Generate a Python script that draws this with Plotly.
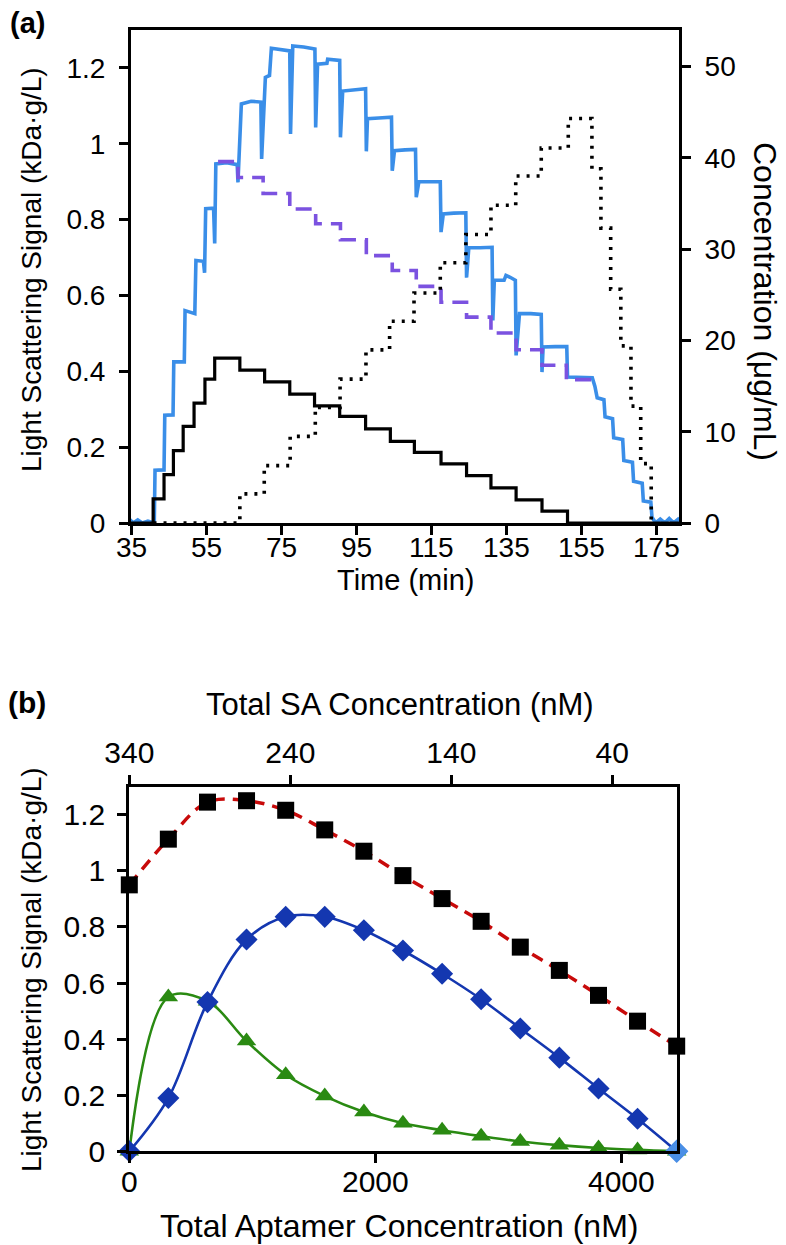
import plotly.graph_objects as go

# The page body has an 8px margin, so the figure is shifted by OFF px.
OFF = 8
W, H = 786 - OFF, 1245 - OFF
FONT = "Liberation Sans, Arial, Helvetica, sans-serif"

# ---------------- Panel (a) data ----------------
blue_t = [32.0, 33.2, 34.4, 35.6, 36.8, 38.0, 39.5, 41.2,
          41.4, 43.8, 44.0, 46.2, 46.4, 49.2, 49.4, 52.0,
          52.3, 54.3, 54.6, 54.9, 57.0, 57.3,
          57.6, 60.5, 63.3, 63.5, 64.4, 67.0, 69.6, 69.8,
          70.8, 71.9, 72.4, 75.0, 77.3, 77.5,
          78.1, 81.0, 84.0, 84.2, 84.7, 87.2, 87.4, 90.6, 90.8,
          91.4, 94.5, 97.5, 97.7, 98.0, 101.0, 104.4, 104.6,
          105.2, 108.0, 110.8, 111.0, 111.7, 114.5, 117.4, 117.6,
          118.2, 121.0, 124.2, 124.4, 125.0, 128.0, 131.2, 131.4,
          131.8, 134.4, 134.9, 136.0, 137.4, 137.6,
          138.5, 141.5, 144.3, 144.5, 144.8, 148.0, 151.1,
          151.3, 155.0, 157.9, 158.6, 159.2, 161.0, 161.3, 163.3,
          163.6, 166.0, 166.3, 168.6, 168.9, 171.2, 171.5, 173.5,
          173.8, 174.8, 176.0, 177.2, 178.4, 179.6, 180.8, 182.0]
blue_v = [0.01, 0.0, 0.012, 0.0, 0.008, 0.0, 0.005, 0.0,
          0.139, 0.14, 0.284, 0.285, 0.425, 0.425, 0.56, 0.552,
          0.692, 0.69, 0.66, 0.829, 0.83, 0.737,
          0.947, 0.95, 0.945, 0.898, 1.105, 1.112, 1.11, 0.96,
          1.175, 1.18, 1.252, 1.248, 1.245, 1.026,
          1.258, 1.255, 1.25, 1.043, 1.21, 1.212, 1.223, 1.22, 1.017,
          1.139, 1.143, 1.145, 0.98, 1.066, 1.068, 1.07, 0.929,
          0.982, 0.984, 0.985, 0.859, 0.9, 0.9, 0.9, 0.767,
          0.815, 0.817, 0.818, 0.647, 0.726, 0.726, 0.727, 0.534,
          0.64, 0.64, 0.653, 0.648, 0.64, 0.442,
          0.552, 0.552, 0.55, 0.398, 0.464, 0.465, 0.465,
          0.385, 0.384, 0.383, 0.36, 0.33, 0.325, 0.28, 0.275,
          0.225, 0.22, 0.165, 0.16, 0.11, 0.105, 0.058, 0.055,
          0.015, 0.0, 0.01, 0.0, 0.012, 0.0, 0.01, 0.0]

purple_t = [58.2, 63.5, 70.2, 77.3, 84.2, 90.8, 97.7, 104.6, 111.0,
            117.6, 124.4, 130.9, 137.6, 144.5, 151.0, 157.9]
purple_v = [0.953, 0.911, 0.869, 0.828, 0.789, 0.747, 0.705, 0.666, 0.624,
            0.582, 0.543, 0.501, 0.457, 0.416, 0.378, 0.378]

black_t = [35, 40.9, 43.8, 46.3, 48.9, 51.8, 54.7, 57.3, 64.0, 70.6, 77.3,
           83.9, 90.6, 97.5, 104.1, 110.5, 117.6, 124.4, 130.9, 137.6,
           144.5, 151.3, 181]
black_c = [0, 2.64, 5.3, 7.92, 10.58, 13.14, 15.76, 18.05, 16.74, 15.46,
           14.12, 12.84, 11.67, 10.3, 8.94, 7.74, 6.47, 5.19, 3.85, 2.54,
           1.29, 0, 0]

dot_t = [41.0, 64.0, 70.5, 77.4, 84.1, 90.7, 97.6, 103.9, 110.4, 117.4,
         124.2, 130.9, 137.5, 144.3, 151.5, 157.8, 160.2, 162.8, 165.5,
         168.2, 170.8, 173.6, 174.5]
dot_c = [0, 3.19, 6.28, 9.49, 12.66, 15.76, 18.96, 22.1, 25.2, 28.5,
         31.6, 34.8, 38.0, 41.07, 44.3, 38.8, 32.3, 25.6, 19.4,
         12.8, 6.5, 0, 0]

a_xticks = [35, 55, 75, 95, 115, 135, 155, 175]
a_yticks = [0, 0.2, 0.4, 0.6, 0.8, 1.0, 1.2]
a_yticktext = ["0", "0.2", "0.4", "0.6", "0.8", "1", "1.2"]
a_y2ticks = [0, 10, 20, 30, 40, 50]

# ---------------- Panel (b) data ----------------
aptamer = [0, 317, 635, 952, 1270, 1587, 1905, 2222, 2540, 2857, 3175,
           3492, 3810, 4127, 4445]
squares = [0.95, 1.113, 1.245, 1.25, 1.216, 1.146, 1.07, 0.983, 0.901,
           0.82, 0.728, 0.645, 0.556, 0.464, 0.375]
diamonds = [0, 0.19, 0.532, 0.755, 0.836, 0.836, 0.788, 0.716, 0.633,
            0.542, 0.438, 0.334, 0.224, 0.116, 0.0]
triangles = [0, 0.55, 0.535, 0.393, 0.273, 0.197, 0.14, 0.1, 0.075,
             0.054, 0.035, 0.022, 0.012, 0.005, 0.0]
end_x = [4445]
end_y = [0.0]

b_xticks = [0, 2000, 4000]
b_topticks = [340, 240, 140, 40]
b_yticks = [0, 0.2, 0.4, 0.6, 0.8, 1.0, 1.2]
b_yticktext = ["0", "0.2", "0.4", "0.6", "0.8", "1", "1.2"]


def px(x):
    # reference-pixel x -> paper fraction
    return (x - OFF) / W


def py(y):
    return 1 - (y - OFF) / H


fig = go.Figure()

# (a) traces
fig.add_trace(go.Scatter(x=black_t, y=black_c, mode="lines", xaxis="x", yaxis="y2",
                         line=dict(color="black", width=3.2, shape="hv"),
                         showlegend=False, hoverinfo="skip"))
fig.add_trace(go.Scatter(x=dot_t, y=dot_c, mode="lines", xaxis="x", yaxis="y2",
                         line=dict(color="black", width=3.6, shape="hv", dash="3px,7px"),
                         showlegend=False, hoverinfo="skip"))
fig.add_trace(go.Scatter(x=blue_t, y=blue_v, mode="lines", xaxis="x", yaxis="y",
                         line=dict(color="#3a8ee8", width=3.6),
                         showlegend=False, hoverinfo="skip"))
fig.add_trace(go.Scatter(x=purple_t, y=purple_v, mode="lines", xaxis="x", yaxis="y",
                         line=dict(color="#7b52e0", width=3.6, shape="hv", dash="16px,9px"),
                         showlegend=False, hoverinfo="skip"))

# (b) traces
fig.add_trace(go.Scatter(x=aptamer, y=squares, mode="lines+markers", xaxis="x2", yaxis="y3",
                         line=dict(color="#c80a0a", width=3.5, shape="spline", smoothing=1.0,
                                   dash="12px,8px"),
                         marker=dict(symbol="square", size=17, color="black"),
                         cliponaxis=False, showlegend=False, hoverinfo="skip"))
fig.add_trace(go.Scatter(x=aptamer, y=triangles, mode="lines+markers", xaxis="x2", yaxis="y3",
                         line=dict(color="#2a8a12", width=2.6, shape="spline", smoothing=1.0),
                         marker=dict(symbol="triangle-up", size=17, color="#2a8a12"),
                         cliponaxis=False, showlegend=False, hoverinfo="skip"))
fig.add_trace(go.Scatter(x=aptamer, y=diamonds, mode="lines+markers", xaxis="x2", yaxis="y3",
                         line=dict(color="#1437b0", width=2.6, shape="spline", smoothing=1.0),
                         marker=dict(symbol="diamond", size=17, color="#1437b0"),
                         cliponaxis=False, showlegend=False, hoverinfo="skip"))
fig.add_trace(go.Scatter(x=end_x, y=end_y, mode="markers", xaxis="x2", yaxis="y3",
                         marker=dict(symbol="diamond", size=18, color="#4a8fe6"),
                         cliponaxis=False, showlegend=False, hoverinfo="skip"))
# anchor trace for the top (SA) axis
fig.add_trace(go.Scatter(x=[340, 0], y=[None, None], mode="lines", xaxis="x3", yaxis="y3",
                         showlegend=False, hoverinfo="skip"))


def axis_style(fsize):
    return dict(showgrid=False, zeroline=False, showline=True, linecolor="black",
                linewidth=3, ticks="outside", ticklen=9, tickwidth=3,
                tickcolor="black", automargin=False,
                tickfont=dict(size=fsize, color="black", family=FONT))


fig.update_layout(
    width=W, height=H,
    margin=dict(l=0, r=0, t=0, b=0),
    paper_bgcolor="white", plot_bgcolor="white",
    font=dict(family=FONT, color="black"),
    xaxis=dict(domain=[px(131), px(679)], anchor="y", range=[35, 181],
               tickvals=a_xticks, showticklabels=False, mirror=True, **axis_style(28)),
    yaxis=dict(domain=[py(523), py(30)], anchor="x", range=[0, 1.3],
               tickvals=a_yticks, ticktext=a_yticktext, ticklabelstandoff=8, **axis_style(28)),
    yaxis2=dict(overlaying="y", side="right", anchor="x", range=[0, 54],
                tickvals=a_y2ticks, ticklabelstandoff=8, **axis_style(28)),
    xaxis2=dict(domain=[px(129.3), px(676.7)], anchor="y3", range=[0, 4445],
                tickvals=b_xticks, showticklabels=False, **axis_style(30)),
    yaxis3=dict(domain=[py(1151.3), py(786.7)], anchor="x2", range=[0, 1.3],
                tickvals=b_yticks, ticktext=b_yticktext, mirror=True, ticklabelstandoff=6,
                **axis_style(30)),
    xaxis3=dict(overlaying="x2", side="top", anchor="y3", range=[340, 0],
                tickvals=b_topticks, **axis_style(30)),
)

ann = []


def text(x, y, s, size=30, angle=0, bold=False):
    ann.append(dict(x=px(x), y=py(y), xref="paper", yref="paper",
                    text=("<b>%s</b>" % s) if bold else s,
                    showarrow=False, textangle=angle, xanchor="center", yanchor="middle",
                    font=dict(size=size, color="black", family=FONT)))


def xtick_labels(vals, xref, y, size):
    # tick labels placed at the axis' own tick positions (data coordinates)
    for v in vals:
        ann.append(dict(x=v, y=py(y), xref=xref, yref="paper", text=str(v),
                        showarrow=False, xanchor="center", yanchor="middle",
                        font=dict(size=size, color="black", family=FONT)))


xtick_labels(a_xticks, "x", 547, 28)
xtick_labels(b_xticks, "x2", 1181, 30)

text(27, 23, "(a)", size=29, bold=True)
text(27, 703, "(b)", size=30, bold=True)
text(31, 270, "Light Scattering Signal (kDa·g/L)", size=28, angle=-90)
text(765, 301, "Concentration (μg/mL)", size=32, angle=90)
text(405, 580, "Time (min)", size=29)
text(31, 970, "Light Scattering Signal (kDa·g/L)", size=28, angle=-90)
text(399, 1226, "Total Aptamer Concentration (nM)", size=32)
text(400, 704, "Total SA Concentration (nM)", size=31)
fig.update_layout(annotations=ann)

fig.write_html("out.html")
